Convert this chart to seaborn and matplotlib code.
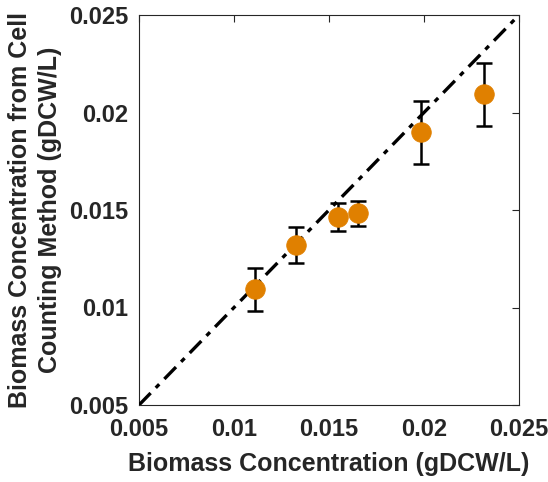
import matplotlib
matplotlib.use("Agg")
import matplotlib.pyplot as plt
import seaborn as sns
import pandas as pd
import numpy as np

measured = [0.0111, 0.01326, 0.01547, 0.01653, 0.01984, 0.02316]
counted = [0.01095, 0.01322, 0.01466, 0.01483, 0.01898, 0.02093]
err_low = [0.00112, 0.00094, 0.00074, 0.00065, 0.00160, 0.00160]
err_high = [0.00108, 0.00091, 0.00070, 0.00063, 0.00160, 0.00160]
diag = [0.005, 0.025]
ticks = [0.005, 0.01, 0.015, 0.02, 0.025]
tick_labels = ["0.005", "0.01", "0.015", "0.02", "0.025"]

sns.set_style("white")
plt.rcParams['font.family'] = ['Liberation Sans', 'DejaVu Sans']
plt.rcParams['font.weight'] = 'bold'

fig = plt.figure(figsize=(5.48, 4.82), dpi=100)
ax = fig.add_axes([139/548, 77/482, 380/548, 390/482])

df = pd.DataFrame({"x": measured, "y": counted})
ax.errorbar(measured, counted, yerr=[err_low, err_high], fmt='none',
            ecolor='black', elinewidth=1.8, capsize=6, capthick=1.8, zorder=2)
sns.lineplot(x=diag, y=diag, ax=ax, color='black', lw=2.4, linestyle='-.',
             dashes=False, zorder=3)
ax.lines[-1].set_dashes([5, 2.2, 1.5, 2.2])
sns.scatterplot(data=df, x="x", y="y", ax=ax, s=200, color='#E08000',
                edgecolor='#E08000', linewidth=0.5, zorder=4)

ax.set_xlim(0.005, 0.025)
ax.set_ylim(0.005, 0.025)
ax.set_xticks(ticks)
ax.set_xticklabels(tick_labels)
ax.set_yticks(ticks)
ax.set_yticklabels(tick_labels)
ax.tick_params(direction='in', length=5, width=0.8, top=True, right=True,
               labelsize=17, colors='#262626')
ax.tick_params(axis='x', pad=9)
ax.tick_params(axis='y', pad=8)
for lab in ax.get_xticklabels() + ax.get_yticklabels():
    lab.set_fontweight('bold')
for s in ax.spines.values():
    s.set_color('#262626')
    s.set_linewidth(0.8)
ax.set_xlabel("Biomass Concentration (gDCW/L)", fontsize=18,
              fontweight='bold', color='#262626', labelpad=8)
ax.set_ylabel("Biomass Concentration from Cell\nCounting Method (gDCW/L)",
              fontsize=18, fontweight='bold', color='#262626', labelpad=5,
              linespacing=1.3)

fig.savefig("out.png", dpi=100)
